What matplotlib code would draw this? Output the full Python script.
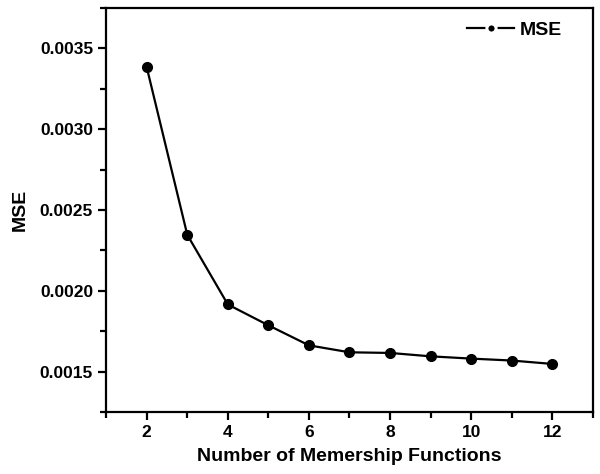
import matplotlib
matplotlib.use("Agg")
import matplotlib.pyplot as plt
from matplotlib.ticker import MultipleLocator, FormatStrFormatter

plt.rcParams['font.family'] = ['Liberation Sans', 'DejaVu Sans']
plt.rcParams['font.weight'] = 'bold'

n_mf = [2, 3, 4, 5, 6, 7, 8, 9, 10, 11, 12]
mse = [0.003383, 0.002346, 0.001915, 0.001786, 0.001662, 0.001619,
       0.001615, 0.001594, 0.001580, 0.001568, 0.001547]

fig = plt.figure(figsize=(6, 4.74), dpi=100)
ax = fig.add_axes([0.177, 0.131, 0.811, 0.852])

ax.plot(n_mf, mse, color='black', lw=1.6, marker='o', ms=7, label='MSE')

ax.set_xlim(1, 13)
ax.set_ylim(0.00125, 0.00375)
ax.xaxis.set_major_locator(MultipleLocator(2))
ax.xaxis.set_minor_locator(MultipleLocator(1))
ax.yaxis.set_major_locator(MultipleLocator(0.0005))
ax.yaxis.set_minor_locator(MultipleLocator(0.00025))
ax.yaxis.set_major_formatter(FormatStrFormatter('%.4f'))

for s in ax.spines.values():
    s.set_linewidth(1.6)
ax.tick_params(which='major', direction='out', length=6, width=1.6, labelsize=12.5)
ax.tick_params(which='minor', direction='out', length=4, width=1.6)

ax.set_xlabel('Number of Memership Functions', fontsize=14, fontweight='bold', labelpad=6)
ax.set_ylabel('MSE', fontsize=14, fontweight='bold', labelpad=8)

# small marker in the legend handle, line broken around it
leg = ax.legend(loc='upper right', bbox_to_anchor=(0.965, 1.0), frameon=False,
                fontsize=14, handlelength=2.4, markerscale=0.95,
                borderaxespad=0.3, handletextpad=0.3)
h = leg.legend_handles[0]
h.set_markeredgecolor('white')
h.set_markeredgewidth(2.2)

fig.savefig('out.png', dpi=100)
